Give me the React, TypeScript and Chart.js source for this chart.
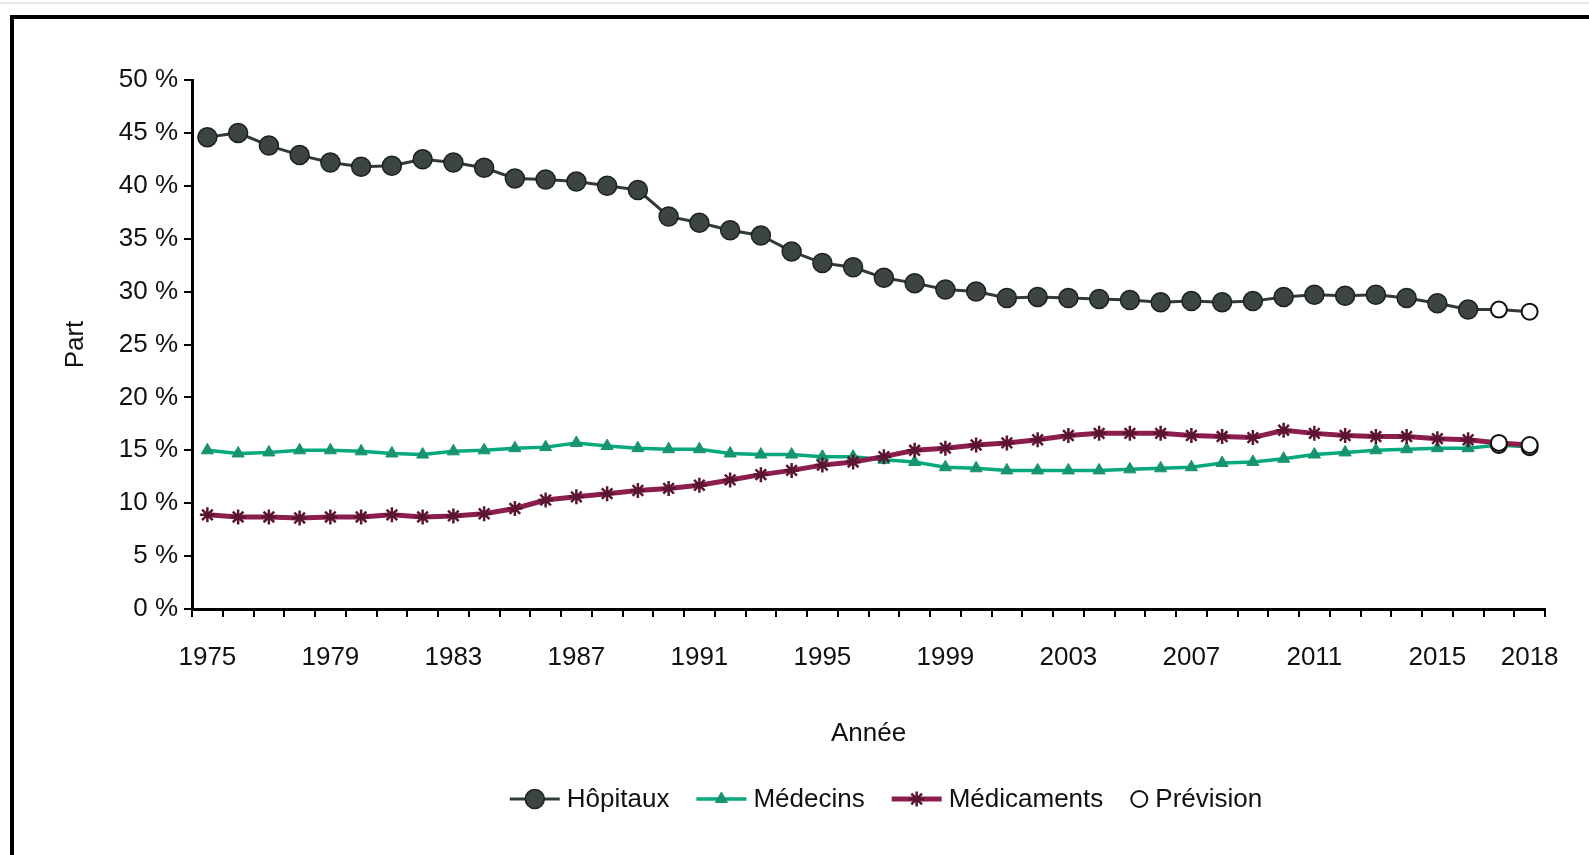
import React, { useEffect, useRef } from 'react';
import { Chart, registerables } from 'chart.js';
import { drawPoint } from 'chart.js/helpers';

Chart.register(...registerables);

const FONT = "'Liberation Sans', Arial, sans-serif";

// Categories (years)
const years = [
  '1975', '1976', '1977', '1978', '1979', '1980', '1981', '1982', '1983', '1984',
  '1985', '1986', '1987', '1988', '1989', '1990', '1991', '1992', '1993', '1994',
  '1995', '1996', '1997', '1998', '1999', '2000', '2001', '2002', '2003', '2004',
  '2005', '2006', '2007', '2008', '2009', '2010', '2011', '2012', '2013', '2014',
  '2015', '2016', '2017', '2018',
];
const xTickLabels = ['1975', '1979', '1983', '1987', '1991', '1995', '1999', '2003', '2007', '2011', '2015', '2018'];
const forecastYears = ['2017', '2018'];

// Observed shares (%), 1975–2016
const hopitaux = [
  44.6, 45.0, 43.8, 42.9, 42.2, 41.8, 41.9, 42.5, 42.2, 41.7,
  40.7, 40.6, 40.4, 40.0, 39.6, 37.1, 36.5, 35.8, 35.3, 33.8,
  32.7, 32.3, 31.3, 30.8, 30.2, 30.0, 29.4, 29.5, 29.4, 29.3,
  29.2, 29.0, 29.1, 29.0, 29.1, 29.5, 29.7, 29.6, 29.7, 29.4,
  28.9, 28.3,
];
const medecins = [
  15.0, 14.7, 14.8, 15.0, 15.0, 14.9, 14.7, 14.6, 14.9, 15.0,
  15.2, 15.3, 15.7, 15.4, 15.2, 15.1, 15.1, 14.7, 14.6, 14.6,
  14.4, 14.4, 14.1, 13.9, 13.4, 13.3, 13.1, 13.1, 13.1, 13.1,
  13.2, 13.3, 13.4, 13.8, 13.9, 14.2, 14.6, 14.8, 15.0, 15.1,
  15.2, 15.2,
];
const medicaments = [
  8.9, 8.7, 8.7, 8.6, 8.7, 8.7, 8.9, 8.7, 8.8, 9.0,
  9.5, 10.3, 10.6, 10.9, 11.2, 11.4, 11.7, 12.2, 12.7, 13.1,
  13.6, 13.9, 14.4, 15.0, 15.2, 15.5, 15.7, 16.0, 16.4, 16.6,
  16.6, 16.6, 16.4, 16.3, 16.2, 16.9, 16.6, 16.4, 16.3, 16.3,
  16.1, 16.0,
];
// Forecasts (2017, 2018)
const prevHopitaux = [28.3, 28.1];
const prevMedecins = [15.5, 15.3];
const prevMedicaments = [15.7, 15.5];

const S = {
  hop: { line: '#323a38', fill: '#3d4543', border: '#1b2220', style: 'circle', radius: 9.5, lw: 3, bw: 1.5 },
  med: { line: '#05a97b', fill: '#17946f', border: '#17946f', style: 'triangle', radius: 7, lw: 3.5, bw: 1 },
  drug: { line: '#8c1d4e', fill: '#6b1838', border: '#5a1530', style: 'star', radius: 7.5, lw: 5, bw: 2.5 },
  prev: { line: '#111111', fill: '#ffffff', border: '#111111', style: 'circle', radius: 8, lw: 0, bw: 2 },
};

const legendPlugin = {
  id: 'customLegend',
  afterDraw(chart: any) {
    const ctx = chart.ctx as CanvasRenderingContext2D;
    const entries = [
      { label: 'Hôpitaux', s: S.hop, line: true },
      { label: 'Médecins', s: S.med, line: true },
      { label: 'Médicaments', s: S.drug, line: true },
      { label: 'Prévision', s: S.prev, line: false },
    ];
    ctx.save();
    ctx.font = `26px ${FONT}`;
    ctx.textBaseline = 'middle';
    ctx.textAlign = 'left';
    const lineW = 50;
    const gap = 7;
    const spacing = 27;
    const widths = entries.map((e) => (e.line ? lineW : e.s.radius * 2 + 2) + gap + ctx.measureText(e.label).width);
    const total = widths.reduce((a, b) => a + b, 0) + spacing * (entries.length - 1);
    const cy = 799;
    let x = 886 - total / 2;
    entries.forEach((e, i) => {
      const mw = e.line ? lineW : e.s.radius * 2 + 2;
      if (e.line) {
        ctx.strokeStyle = e.s.line;
        ctx.lineWidth = e.s.lw;
        ctx.beginPath();
        ctx.moveTo(x, cy);
        ctx.lineTo(x + lineW, cy);
        ctx.stroke();
      }
      ctx.fillStyle = e.s.fill;
      ctx.strokeStyle = e.s.border;
      ctx.lineWidth = e.s.bw;
      drawPoint(ctx, { pointStyle: e.s.style as any, radius: e.s.radius, rotation: 0, borderWidth: e.s.bw }, x + mw / 2, cy);
      ctx.fillStyle = '#111111';
      ctx.fillText(e.label, x + mw + gap, cy + 1);
      x += widths[i] + spacing;
    });
    ctx.restore();
  },
};

export default function App() {
  const ref = useRef<HTMLCanvasElement | null>(null);

  useEffect(() => {
    if (!ref.current) return;
    const n = hopitaux.length;
    const rad = (r: number) => (c: any) => (c.dataIndex >= n ? 0 : r);
    const prevData = [
      ...forecastYears.map((y, i) => ({ x: y, y: prevHopitaux[i] })),
      ...forecastYears.map((y, i) => ({ x: y, y: prevMedecins[i] })),
      ...forecastYears.map((y, i) => ({ x: y, y: prevMedicaments[i] })),
    ];
    const chart = new Chart(ref.current, {
      type: 'line',
      data: {
        labels: years,
        datasets: [
          {
            label: 'Prévision',
            data: prevData as any,
            showLine: false,
            pointStyle: 'circle',
            pointRadius: S.prev.radius,
            pointBackgroundColor: S.prev.fill,
            pointBorderColor: S.prev.border,
            pointBorderWidth: S.prev.bw,
            borderColor: S.prev.border,
            backgroundColor: S.prev.fill,
            order: 0,
          },
          {
            label: 'Hôpitaux',
            data: [...hopitaux, ...prevHopitaux],
            borderColor: S.hop.line,
            borderWidth: S.hop.lw,
            pointStyle: 'circle',
            pointRadius: rad(S.hop.radius),
            pointBackgroundColor: S.hop.fill,
            pointBorderColor: S.hop.border,
            pointBorderWidth: S.hop.bw,
            tension: 0,
            order: 1,
          },
          {
            label: 'Médecins',
            data: [...medecins, ...prevMedecins],
            borderColor: S.med.line,
            borderWidth: S.med.lw,
            pointStyle: 'triangle',
            pointRadius: rad(S.med.radius),
            pointBackgroundColor: S.med.fill,
            pointBorderColor: S.med.border,
            pointBorderWidth: S.med.bw,
            tension: 0,
            order: 3,
          },
          {
            label: 'Médicaments',
            data: [...medicaments, ...prevMedicaments],
            borderColor: S.drug.line,
            borderWidth: S.drug.lw,
            pointStyle: 'star',
            pointRadius: rad(S.drug.radius),
            pointBackgroundColor: S.drug.fill,
            pointBorderColor: S.drug.border,
            pointBorderWidth: S.drug.bw,
            tension: 0,
            order: 2,
          },
        ],
      },
      options: {
        responsive: false,
        devicePixelRatio: 1,
        animation: false,
        events: [],
        layout: { padding: { left: 0, top: 80, right: 44, bottom: 0 } },
        plugins: {
          legend: { display: false },
          tooltip: { enabled: false },
        },
        scales: {
          x: {
            type: 'category',
            offset: true,
            grid: {
              offset: true,
              drawOnChartArea: false,
              drawTicks: true,
              tickLength: 8,
              color: '#000',
              lineWidth: 2,
            },
            border: { display: true, color: '#000', width: 3 },
            ticks: {
              autoSkip: false,
              maxRotation: 0,
              minRotation: 0,
              padding: 25,
              color: '#111',
              font: { family: FONT, size: 26 },
              callback: (_v: any, i: number) => (xTickLabels.includes(years[i]) ? years[i] : ''),
            },
            title: {
              display: true,
              text: 'Année',
              color: '#111',
              font: { family: FONT, size: 26 },
              padding: { top: 0, bottom: 106 },
            },
            afterFit: (scale: any) => {
              scale.height = 246;
            },
          },
          y: {
            min: 0,
            max: 50,
            grid: {
              drawOnChartArea: false,
              drawTicks: true,
              tickLength: 8,
              color: '#000',
              lineWidth: 2,
            },
            border: { display: true, color: '#000', width: 3 },
            ticks: {
              stepSize: 5,
              padding: 6,
              color: '#111',
              font: { family: FONT, size: 26 },
              callback: (v: any) => `${v} %`,
            },
            title: {
              display: true,
              text: 'Part',
              color: '#111',
              font: { family: FONT, size: 26 },
              padding: { top: 60, bottom: 0 },
            },
            afterFit: (scale: any) => {
              scale.width = 192;
            },
          },
        },
      },
      plugins: [legendPlugin],
    });
    return () => chart.destroy();
  }, []);

  return (
    <div style={{ position: 'absolute', left: 0, top: 0, width: 1589, height: 855, background: '#fff', overflow: 'hidden' }}>
      <div style={{ position: 'absolute', left: 0, top: 2, width: 1589, height: 2, background: '#e6e6e6' }} />
      <canvas ref={ref} width={1589} height={855} style={{ position: 'absolute', left: 0, top: 0, display: 'block' }} />
      <div
        style={{
          position: 'absolute',
          left: 10,
          top: 15,
          width: 1600,
          height: 900,
          borderLeft: '4px solid #000',
          borderTop: '4px solid #000',
          pointerEvents: 'none',
        }}
      />
    </div>
  );
}
